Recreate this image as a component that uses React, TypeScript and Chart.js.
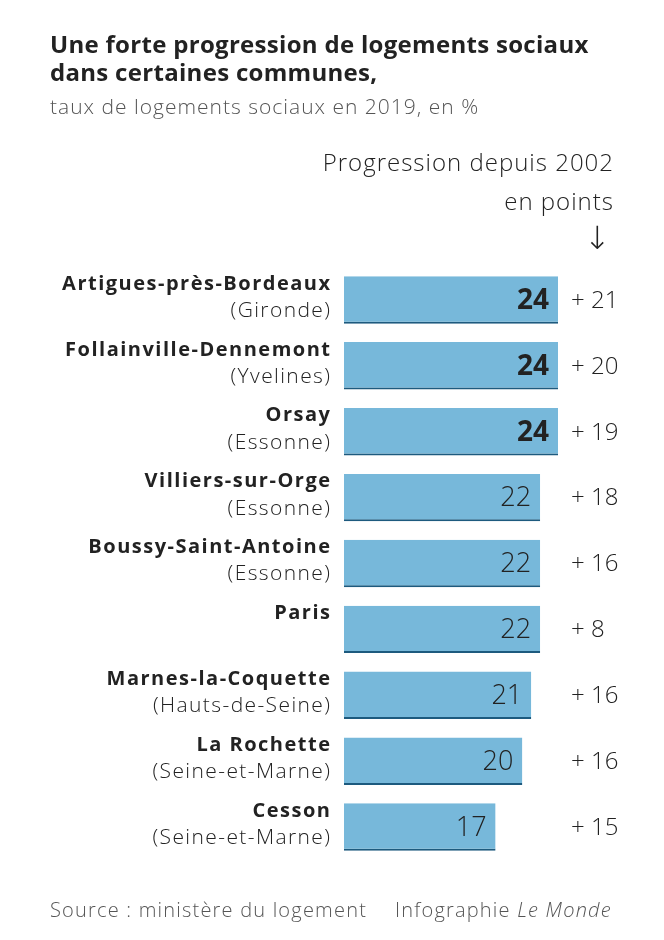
import React, { useEffect, useRef } from "react";
import { Chart, registerables } from "chart.js";

Chart.register(...registerables);

const communes = [
  "Artigues-près-Bordeaux",
  "Follainville-Dennemont",
  "Orsay",
  "Villiers-sur-Orge",
  "Boussy-Saint-Antoine",
  "Paris",
  "Marnes-la-Coquette",
  "La Rochette",
  "Cesson",
];
const departements = [
  "(Gironde)",
  "(Yvelines)",
  "(Essonne)",
  "(Essonne)",
  "(Essonne)",
  "",
  "(Hauts-de-Seine)",
  "(Seine-et-Marne)",
  "(Seine-et-Marne)",
];
const taux2019 = [24, 24, 24, 22, 22, 22, 21, 20, 17];
const progression = [21, 20, 19, 18, 16, 8, 16, 16, 15];
const maxTaux = 24;

const FONT = "'Open Sans', Roboto, sans-serif";
const TEXT = "#222222";

const labelsPlugin = {
  id: "rowLabels",
  afterDatasetsDraw(chart: any) {
    const ctx = chart.ctx as any;
    const xs = chart.scales.x;
    const ys = chart.scales.y;
    ctx.save();
    ctx.textBaseline = "middle";
    communes.forEach((name: string, i: number) => {
      const y = ys.getPixelForValue(i);
      ctx.fillStyle = TEXT;
      ctx.textAlign = "right";
      ctx.font = `700 20px ${FONT}`;
      ctx.letterSpacing = "1.5px";
      ctx.fillText(name, 331.5, y - 16);
      if (departements[i]) {
        ctx.font = `300 21px ${FONT}`;
        ctx.letterSpacing = "1.4px";
        ctx.fillText(departements[i], 331.4, y + 11);
      }
      ctx.letterSpacing = "0px";
      const v = taux2019[i];
      const xe = xs.getPixelForValue(v);
      ctx.font = v === maxTaux ? `700 28px ${FONT}` : `300 27px ${FONT}`;
      ctx.fillText(String(v), xe - 9, y + 1);
      ctx.textAlign = "left";
      ctx.font = `300 24px ${FONT}`;
      ctx.fillText("+ " + progression[i], 571, y + 1);
    });
    ctx.restore();
  },
};

export default function App() {
  const ref = useRef<HTMLCanvasElement>(null);
  useEffect(() => {
    if (!ref.current) return;
    const chart = new Chart(ref.current, {
      type: "bar",
      data: {
        labels: communes,
        datasets: [
          {
            data: taux2019,
            backgroundColor: "#77b8da",
            borderColor: "#1d5a7e",
            borderWidth: { top: 0, right: 0, left: 0, bottom: 2 },
            borderSkipped: false,
            barPercentage: 0.72,
            categoryPercentage: 1,
          },
        ],
      },
      plugins: [labelsPlugin],
      options: {
        indexAxis: "y",
        responsive: false,
        animation: false,
        events: [],
        layout: { padding: { left: 344, right: 52.5, top: 267, bottom: 80 } },
        plugins: { legend: { display: false }, tooltip: { enabled: false } },
        scales: {
          x: { display: false, min: 0, max: 30 },
          y: { display: false },
        },
      },
    });
    return () => chart.destroy();
  }, []);

  const abs = (extra: React.CSSProperties): React.CSSProperties => ({
    position: "absolute",
    margin: 0,
    whiteSpace: "nowrap",
    fontFamily: FONT,
    ...extra,
  });

  return (
    <div style={{ position: "absolute", left: 0, top: 0, width: 664, height: 940, background: "#fff", overflow: "hidden" }}>
      <canvas ref={ref} width={664} height={940} style={{ position: "absolute", left: 0, top: 0, width: 664, height: 940 }} />
      <div style={abs({ left: 50, top: 30, fontSize: 24, fontWeight: 700, lineHeight: "28px", color: TEXT, letterSpacing: "0.3px" })}>
        Une forte progression de logements sociaux
        <br />
        dans certaines communes,
      </div>
      <div style={abs({ left: 50, top: 92, fontSize: 21, fontWeight: 300, lineHeight: "28px", color: "#555", letterSpacing: "1px" })}>
        taux de logements sociaux en 2019, en %
      </div>
      <div style={abs({ right: 50, top: 146, fontSize: 24, fontWeight: 300, lineHeight: "32px", color: TEXT, textAlign: "right", letterSpacing: "1px" })}>
        Progression depuis 2002
      </div>
      <div style={abs({ right: 50, top: 185, fontSize: 24, fontWeight: 300, lineHeight: "32px", color: TEXT, textAlign: "right", letterSpacing: "1px" })}>
        en points
      </div>
      <div style={abs({ left: 584, top: 216, fontSize: 32, fontWeight: 300, lineHeight: "44px", color: TEXT, fontFamily: "'DejaVu Sans', sans-serif" })}>
        ↓
      </div>
      <div style={abs({ left: 50, top: 896, fontSize: 20, fontWeight: 300, lineHeight: "28px", color: "#555", letterSpacing: "1.2px" })}>
        Source : ministère du logement
      </div>
      <div style={abs({ left: 395, top: 896, fontSize: 20, fontWeight: 300, lineHeight: "28px", color: "#555", letterSpacing: "1.2px" })}>
        Infographie <i>Le Monde</i>
      </div>
    </div>
  );
}
